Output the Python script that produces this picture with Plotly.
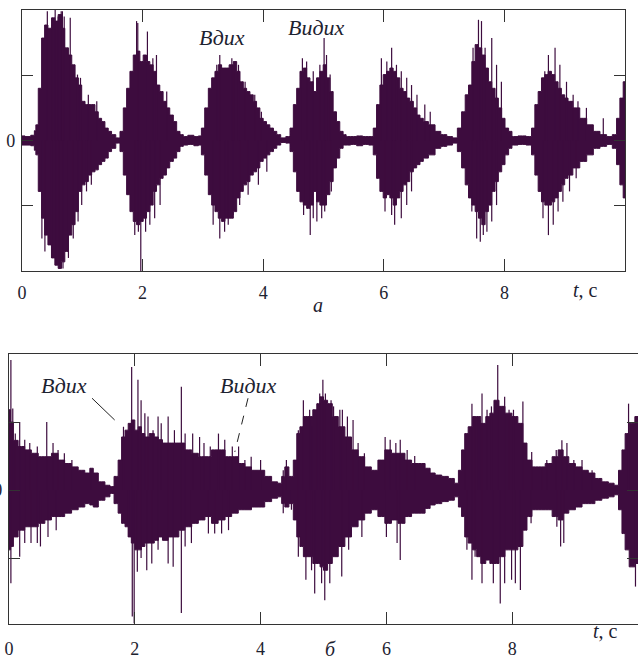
import plotly.graph_objects as go

WAVE = "#3d0c3e"
INK = "#1d2230"
SERIF = "'Liberation Serif', 'DejaVu Serif', serif"

# ---- panel a: breathing sound, envelope of the signal (time s, upper, lower)
a_t = [0.00, 0.10, 0.19, 0.22, 0.24, 0.30, 0.35, 0.40, 0.46, 0.52, 0.57, 0.63, 0.68, 0.74, 0.80,
       0.85, 0.91, 0.96, 1.02, 1.07, 1.13, 1.18, 1.24, 1.29, 1.35, 1.40, 1.46, 1.51, 1.60, 1.65,
       1.71, 1.76, 1.82, 1.87, 1.93, 1.98, 2.04, 2.09, 2.15, 2.20, 2.26, 2.31, 2.37, 2.42, 2.48,
       2.54, 2.59, 2.65, 2.70, 2.80, 2.90, 2.95, 3.00, 3.06, 3.12, 3.17, 3.23, 3.28, 3.34, 3.39,
       3.48, 3.53, 3.59, 3.64, 3.70, 3.75, 3.81, 3.86, 3.92, 3.97, 4.03, 4.08, 4.14, 4.20, 4.25,
       4.33, 4.42, 4.47, 4.53, 4.58, 4.64, 4.69, 4.75, 4.80, 4.86, 4.91, 4.97, 5.02, 5.08, 5.13,
       5.19, 5.24, 5.30, 5.35, 5.40, 5.50, 5.60, 5.70, 5.80, 5.85, 5.91, 5.96, 6.02, 6.07, 6.13,
       6.18, 6.24, 6.29, 6.35, 6.40, 6.46, 6.52, 6.57, 6.63, 6.68, 6.80, 6.90, 6.99, 7.10, 7.18,
       7.26, 7.32, 7.38, 7.43, 7.49, 7.54, 7.60, 7.65, 7.71, 7.76, 7.82, 7.87, 7.93, 7.98, 8.04,
       8.10, 8.15, 8.30, 8.42, 8.48, 8.53, 8.59, 8.64, 8.70, 8.75, 8.81, 8.86, 8.92, 8.97, 9.03,
       9.08, 9.19, 9.31, 9.42, 9.53, 9.64, 9.75, 9.83, 9.89, 9.94, 10.00]
a_up = [0.07, 0.06, 0.08, 0.15, 0.24, 0.80, 1.57, 1.77, 1.72, 1.88, 1.83, 1.93, 1.72, 1.42, 1.31,
        1.16, 0.96, 0.85, 0.60, 0.55, 0.55, 0.55, 0.44, 0.34, 0.29, 0.19, 0.14, 0.09, 0.04, 0.14,
        0.50, 0.80, 1.06, 1.31, 1.37, 1.21, 1.31, 1.21, 1.16, 1.06, 0.85, 0.75, 0.60, 0.50, 0.39,
        0.29, 0.14, 0.09, 0.06, 0.08, 0.06, 0.07, 0.19, 0.50, 0.80, 0.96, 1.06, 1.16, 1.11, 1.11,
        1.16, 1.21, 1.06, 0.90, 0.80, 0.75, 0.70, 0.60, 0.50, 0.34, 0.29, 0.24, 0.19, 0.14, 0.09,
        0.04, 0.06, 0.19, 0.55, 0.80, 1.06, 1.11, 0.96, 0.90, 0.75, 0.96, 1.06, 1.16, 0.96, 0.75,
        0.44, 0.29, 0.14, 0.09, 0.06, 0.06, 0.07, 0.06, 0.06, 0.19, 0.55, 0.85, 1.01, 1.06, 1.11,
        1.06, 0.96, 0.80, 0.75, 0.65, 0.60, 0.50, 0.39, 0.34, 0.29, 0.24, 0.14, 0.09, 0.06, 0.04,
        0.19, 0.44, 0.70, 0.85, 1.21, 1.47, 1.42, 1.31, 1.11, 0.90, 0.80, 0.65, 0.50, 0.34, 0.19,
        0.14, 0.06, 0.07, 0.06, 0.19, 0.55, 0.75, 0.96, 1.01, 1.06, 1.01, 0.90, 0.80, 0.70, 0.65,
        0.60, 0.50, 0.34, 0.24, 0.14, 0.09, 0.06, 0.09, 0.34, 0.65, 0.90]
a_lo = [-0.07, -0.07, -0.08, -0.15, -0.22, -0.78, -1.19, -1.45, -1.60, -1.80, -1.91, -1.96, -1.86, -1.70, -1.45,
        -1.29, -1.09, -0.78, -0.68, -0.63, -0.53, -0.48, -0.45, -0.37, -0.32, -0.27, -0.17, -0.12, -0.04, -0.17,
        -0.53, -0.83, -1.09, -1.24, -1.29, -1.24, -1.19, -1.09, -0.99, -0.78, -0.68, -0.58, -0.53, -0.42, -0.32,
        -0.27, -0.17, -0.09, -0.07, -0.06, -0.08, -0.07, -0.22, -0.53, -0.83, -0.99, -1.09, -1.19, -1.24, -1.19,
        -1.19, -1.09, -0.88, -0.78, -0.68, -0.63, -0.53, -0.48, -0.42, -0.32, -0.27, -0.22, -0.17, -0.12, -0.07,
        -0.03, -0.04, -0.17, -0.48, -0.78, -0.94, -0.99, -1.04, -0.99, -0.78, -0.94, -0.99, -0.99, -0.83, -0.63,
        -0.42, -0.27, -0.12, -0.07, -0.07, -0.06, -0.08, -0.06, -0.07, -0.22, -0.58, -0.78, -0.88, -0.83, -0.88,
        -0.99, -0.88, -0.78, -0.68, -0.63, -0.48, -0.42, -0.37, -0.32, -0.27, -0.22, -0.12, -0.09, -0.07, -0.04,
        -0.17, -0.42, -0.68, -0.88, -0.99, -1.09, -1.19, -1.29, -1.09, -0.99, -0.78, -0.63, -0.48, -0.37, -0.22,
        -0.12, -0.07, -0.06, -0.07, -0.22, -0.53, -0.78, -0.94, -0.99, -0.99, -0.94, -0.88, -0.78, -0.68, -0.58,
        -0.53, -0.42, -0.32, -0.22, -0.12, -0.09, -0.06, -0.12, -0.37, -0.68, -0.88]

# panel a: isolated peaks above / below the envelope
a_pk_t = [0.42, 0.50, 0.55, 0.60, 0.65, 0.67, 0.70, 0.80, 0.92, 0.97, 1.10, 1.24, 1.90, 1.92, 2.08,
          2.17, 2.23, 2.40, 3.23, 3.28, 3.48, 3.52, 3.59, 3.70, 3.86, 3.97, 4.65, 4.72, 4.83, 4.94,
          5.01, 5.05, 5.11, 5.96, 6.05, 6.13, 6.21, 6.29, 6.38, 6.46, 6.55, 6.68, 6.77, 7.48, 7.57,
          7.62, 7.68, 7.79, 7.87, 7.95, 8.67, 8.73, 8.84, 8.92, 9.03, 9.14, 9.22, 9.36, 9.64]
a_pk_v = [1.98, 1.77, 2.00, 1.90, 1.98, 1.98, 1.90, 1.88, 1.01, 0.96, 0.70, 0.60, 1.83, 1.80, 1.67,
          1.26, 1.31, 0.75, 1.16, 1.31, 1.26, 1.21, 1.16, 0.90, 0.70, 0.44, 1.26, 1.21, 1.06, 1.16,
          1.57, 1.31, 1.01, 1.26, 1.21, 1.42, 1.16, 1.06, 0.96, 0.85, 0.70, 0.55, 0.44, 1.42, 1.85,
          1.83, 1.42, 1.57, 1.16, 0.90, 1.06, 1.31, 1.42, 1.16, 0.90, 0.70, 0.60, 0.50, 0.34]
a_tr_t = [0.33, 0.38, 0.49, 0.57, 0.62, 0.68, 0.77, 0.85, 0.93, 0.99, 1.07, 1.15, 1.87, 1.93, 1.97,
          2.05, 2.12, 2.20, 2.29, 3.17, 3.28, 3.36, 3.42, 3.50, 3.61, 3.75, 3.92, 4.06, 4.67, 4.78,
          4.83, 4.89, 4.97, 5.02, 5.13, 6.02, 6.13, 6.18, 6.29, 6.38, 6.46, 7.46, 7.54, 7.60, 7.65,
          7.71, 7.79, 7.87, 8.64, 8.73, 8.81, 8.89, 8.97, 9.08, 9.19]
a_tr_v = [-1.50, -1.70, -1.80, -1.91, -1.96, -1.96, -1.80, -1.50, -1.24, -0.99, -0.78, -0.68, -1.45, -1.40, -2.00,
          -1.40, -1.29, -1.19, -0.99, -1.29, -1.50, -1.40, -1.29, -1.14, -0.99, -0.83, -0.68, -0.48, -1.14, -1.45,
          -1.19, -1.24, -1.19, -1.09, -0.78, -1.09, -1.14, -1.29, -1.19, -0.99, -0.78, -1.09, -1.50, -1.55, -1.45,
          -1.40, -1.24, -0.99, -1.19, -1.45, -1.29, -1.09, -0.94, -0.78, -0.58]

# ---- panel б: envelope of the second recording
b_t = [0.00, 0.05, 0.09, 0.20, 0.30, 0.41, 0.52, 0.62, 0.73, 0.83, 0.94, 1.05, 1.15, 1.26, 1.31,
       1.37, 1.47, 1.58, 1.63, 1.71, 1.76, 1.82, 1.87, 1.92, 1.97, 2.03, 2.08, 2.13, 2.19, 2.27,
       2.35, 2.40, 2.48, 2.58, 2.66, 2.74, 2.85, 2.96, 3.06, 3.17, 3.27, 3.38, 3.49, 3.59, 3.70,
       3.80, 3.91, 4.01, 4.12, 4.23, 4.31, 4.36, 4.41, 4.49, 4.55, 4.60, 4.65, 4.71, 4.79, 4.87,
       4.92, 4.97, 5.03, 5.10, 5.18, 5.29, 5.39, 5.50, 5.60, 5.71, 5.81, 5.92, 6.03, 6.13, 6.24,
       6.35, 6.45, 6.56, 6.67, 6.72, 6.83, 6.93, 7.04, 7.12, 7.17, 7.22, 7.27, 7.33, 7.41, 7.46,
       7.54, 7.62, 7.67, 7.75, 7.83, 7.94, 8.05, 8.13, 8.21, 8.26, 8.37, 8.47, 8.58, 8.69, 8.77,
       8.85, 8.95, 9.06, 9.16, 9.26, 9.37, 9.48, 9.58, 9.66, 9.72, 9.77, 9.82, 9.90, 10.00]
b_up = [1.18, 1.00, 0.73, 0.64, 0.59, 0.54, 0.49, 0.49, 0.54, 0.44, 0.39, 0.34, 0.29, 0.25, 0.32,
        0.25, 0.12, 0.07, 0.05, 0.20, 0.44, 0.78, 0.88, 0.98, 1.03, 0.88, 0.93, 0.83, 0.78, 0.83,
        0.78, 0.74, 0.69, 0.69, 0.69, 0.69, 0.59, 0.54, 0.49, 0.49, 0.59, 0.59, 0.49, 0.49, 0.39,
        0.34, 0.29, 0.29, 0.20, 0.12, 0.10, 0.20, 0.34, 0.20, 0.44, 0.83, 0.93, 1.08, 1.08, 1.18,
        1.27, 1.37, 1.32, 1.27, 1.08, 0.93, 0.78, 0.59, 0.49, 0.34, 0.29, 0.44, 0.59, 0.54, 0.54,
        0.44, 0.39, 0.39, 0.32, 0.25, 0.22, 0.20, 0.17, 0.10, 0.29, 0.59, 0.83, 0.93, 1.08, 1.08,
        0.98, 1.08, 1.13, 1.32, 1.23, 1.13, 1.08, 0.98, 0.69, 0.44, 0.34, 0.34, 0.39, 0.49, 0.59,
        0.49, 0.39, 0.34, 0.29, 0.25, 0.17, 0.12, 0.10, 0.07, 0.29, 0.59, 0.83, 0.98, 1.08]
b_lo = [-0.88, -0.83, -0.69, -0.59, -0.54, -0.54, -0.49, -0.44, -0.39, -0.39, -0.34, -0.29, -0.25, -0.20, -0.22,
        -0.25, -0.15, -0.10, -0.05, -0.20, -0.34, -0.49, -0.54, -0.69, -0.78, -0.88, -0.88, -0.83, -0.78, -0.78,
        -0.74, -0.69, -0.74, -0.69, -0.69, -0.59, -0.54, -0.49, -0.44, -0.39, -0.49, -0.44, -0.39, -0.34, -0.29,
        -0.29, -0.25, -0.25, -0.17, -0.12, -0.10, -0.20, -0.25, -0.20, -0.44, -0.69, -0.83, -0.98, -0.98, -1.08,
        -1.08, -1.13, -1.18, -1.08, -0.98, -0.83, -0.69, -0.54, -0.44, -0.34, -0.29, -0.39, -0.49, -0.44, -0.49,
        -0.39, -0.34, -0.34, -0.27, -0.22, -0.20, -0.17, -0.15, -0.10, -0.25, -0.39, -0.69, -0.78, -0.88, -0.98,
        -1.08, -1.03, -1.08, -1.08, -0.98, -0.88, -0.88, -0.83, -0.59, -0.39, -0.29, -0.29, -0.29, -0.39, -0.44,
        -0.34, -0.29, -0.25, -0.20, -0.20, -0.15, -0.12, -0.10, -0.07, -0.29, -0.64, -0.88, -1.13, -1.08]

b_pk_t = [0.03, 0.06, 0.10, 0.17, 0.25, 0.33, 0.45, 0.60, 0.70, 0.78, 0.88, 1.00, 1.30, 1.82, 1.95,
          2.05, 2.10, 2.16, 2.21, 2.29, 2.37, 2.42, 2.53, 2.63, 2.74, 2.80, 2.92, 3.03, 3.10, 3.20,
          3.33, 3.43, 3.55, 3.65, 3.75, 3.85, 4.00, 4.36, 4.41, 4.60, 4.68, 4.78, 4.82, 4.90, 4.94,
          4.99, 5.03, 5.12, 5.16, 5.26, 5.30, 5.38, 5.47, 5.55, 5.65, 5.98, 6.06, 6.15, 6.22, 6.33,
          6.45, 7.25, 7.36, 7.41, 7.45, 7.49, 7.52, 7.60, 7.67, 7.77, 7.88, 7.95, 8.02, 8.17, 8.31,
          8.47, 8.55, 8.70, 8.79, 8.87, 8.98, 9.11, 9.27, 9.85]
b_pk_v = [1.91, 1.20, 0.83, 1.00, 0.74, 0.69, 0.64, 1.00, 0.69, 0.59, 0.54, 0.44, 0.32, 0.93, 1.81,
          1.62, 1.32, 1.13, 1.08, 0.88, 1.08, 0.98, 1.08, 0.88, 1.52, 0.83, 0.83, 0.78, 0.69, 0.64,
          0.83, 0.74, 0.64, 0.64, 0.44, 0.49, 0.44, 0.29, 0.44, 0.88, 1.32, 1.18, 0.93, 1.27, 1.42,
          1.62, 1.42, 1.32, 1.23, 1.18, 1.18, 1.08, 1.03, 0.69, 0.54, 0.78, 0.74, 0.69, 0.74, 0.59,
          0.50, 0.59, 1.27, 1.03, 1.08, 1.03, 1.42, 1.18, 1.23, 1.84, 1.37, 1.18, 1.18, 1.30, 0.56,
          0.34, 0.44, 0.59, 0.73, 0.69, 0.44, 0.44, 0.29, 1.27]
b_tr_t = [0.03, 0.17, 0.25, 0.35, 0.45, 0.50, 0.62, 0.75, 1.90, 1.96, 1.99, 2.04, 2.10, 2.19, 2.27,
          2.37, 2.53, 2.61, 2.74, 2.80, 2.90, 3.17, 3.27, 3.38, 3.49, 4.36, 4.49, 4.60, 4.72, 4.81,
          4.86, 4.97, 5.02, 5.10, 5.29, 5.40, 5.61, 6.00, 6.17, 6.22, 7.28, 7.36, 7.41, 7.52, 7.70,
          7.81, 7.88, 7.99, 8.05, 8.13, 8.30, 8.71, 8.77, 8.82, 9.96]
b_tr_v = [-1.37, -0.98, -0.78, -0.78, -0.78, -0.83, -0.69, -0.59, -0.69, -1.86, -1.96, -1.20, -1.00, -1.18, -1.08,
          -0.88, -1.08, -1.13, -1.81, -0.83, -0.78, -0.64, -0.64, -0.64, -0.59, -0.34, -0.29, -0.98, -1.32, -1.18,
          -1.52, -1.37, -1.62, -1.37, -1.27, -0.88, -0.69, -0.69, -0.78, -1.03, -0.88, -1.32, -0.98, -1.37, -1.37,
          -1.67, -1.37, -1.32, -1.37, -1.47, -0.49, -0.54, -0.83, -0.78, -1.42]

x_ticks = [0, 2, 4, 6, 8]
x_tick_text = ["0", "2", "4", "6", "8"]
y_ticks = [-1, 0, 1]
y_tick_text = ["", "0", ""]


def body(t, up, lo, xa, ya):
    """Filled band between the upper and lower envelope."""
    return go.Scatter(x=list(t) + list(t)[::-1], y=list(up) + list(lo)[::-1],
                      mode="lines", fill="toself", fillcolor=WAVE,
                      line=dict(color=WAVE, width=1, shape="hvh"),
                      xaxis=xa, yaxis=ya, hoverinfo="skip", showlegend=False)


def spikes(ts, vs, xa, ya):
    """Single vertical strokes from the zero line out to each peak."""
    xs, ys = [], []
    for t, v in zip(ts, vs):
        xs += [t, t, None]
        ys += [0, v, None]
    return go.Scatter(x=xs, y=ys, mode="lines", line=dict(color=WAVE, width=1.2),
                      xaxis=xa, yaxis=ya, hoverinfo="skip", showlegend=False)


fig = go.Figure()
fig.add_trace(body(a_t, a_up, a_lo, "x", "y"))
fig.add_trace(spikes(a_pk_t, a_pk_v, "x", "y"))
fig.add_trace(spikes(a_tr_t, a_tr_v, "x", "y"))
fig.add_trace(body(b_t, b_up, b_lo, "x2", "y2"))
fig.add_trace(spikes(b_pk_t, b_pk_v, "x2", "y2"))
fig.add_trace(spikes(b_tr_t, b_tr_v, "x2", "y2"))

W, H = 638, 672
axis_common = dict(showline=True, linecolor="#333333", linewidth=1.4, mirror="ticks",
                   ticks="inside", tickcolor="#333333", tickwidth=1.4,
                   showgrid=False, zeroline=False, automargin=False,
                   tickfont=dict(family=SERIF, size=18, color=INK))

fig.update_layout(
    width=W, height=H, margin=dict(l=0, r=0, t=0, b=0),
    paper_bgcolor="white", plot_bgcolor="white", showlegend=False,
    font=dict(family=SERIF),
    xaxis=dict(axis_common, domain=[22 / W, 625 / W], range=[0, 10], anchor="y",
               tickvals=x_ticks, ticktext=x_tick_text, ticklen=12, ticklabelstandoff=5),
    yaxis=dict(axis_common, domain=[1 - 271 / H, 1 - 10 / H], range=[-2, 2], anchor="x",
               tickvals=y_ticks, ticktext=y_tick_text, ticklen=11, ticklabelstandoff=2),
    xaxis2=dict(axis_common, domain=[9 / W, 1.0], range=[0, 10], anchor="y2",
                tickvals=x_ticks, ticktext=x_tick_text, ticklen=12, ticklabelstandoff=8),
    yaxis2=dict(axis_common, domain=[1 - 624 / H, 1 - 354 / H], range=[-1.97, 2.0], anchor="x2",
                tickvals=y_ticks, ticktext=y_tick_text, ticklen=11, ticklabelstandoff=2),
)

label_font = dict(family=SERIF, size=22, color=INK)
notes = [
    dict(text="<i>Вдих</i>", x=3.32, y=1.58, xref="x", yref="y"),
    dict(text="<i>Видих</i>", x=4.89, y=1.73, xref="x", yref="y"),
    dict(text="<i>Вдих</i>", x=0.87, y=1.54, xref="x2", yref="y2"),
    dict(text="<i>Видих</i>", x=3.80, y=1.54, xref="x2", yref="y2"),
]
for n in notes:
    fig.add_annotation(**n, showarrow=False, font=label_font)

# axis captions and panel letters (paper coordinates)
for text, px, py in [("<i>t</i>, c", 600, 290), ("<i>а</i>", 318, 305),
                     ("<i>t</i>, c", 620, 644), ("<i>б</i>", 330, 662)]:
    fig.add_annotation(text=text, x=px / W, y=1 - py / H, xref="paper", yref="paper",
                       showarrow=False, font=dict(family=SERIF, size=20, color=INK))

# leader lines from the labels to the waveform in panel б
fig.add_shape(type="line", xref="x2", yref="y2", x0=1.32, y0=1.35, x1=1.68, y1=1.03,
              line=dict(color="#222222", width=1))
fig.add_shape(type="line", xref="x2", yref="y2", x0=3.80, y0=1.35, x1=3.59, y1=0.56,
              line=dict(color="#222222", width=1, dash="dash"))

fig.write_html("out.html")
